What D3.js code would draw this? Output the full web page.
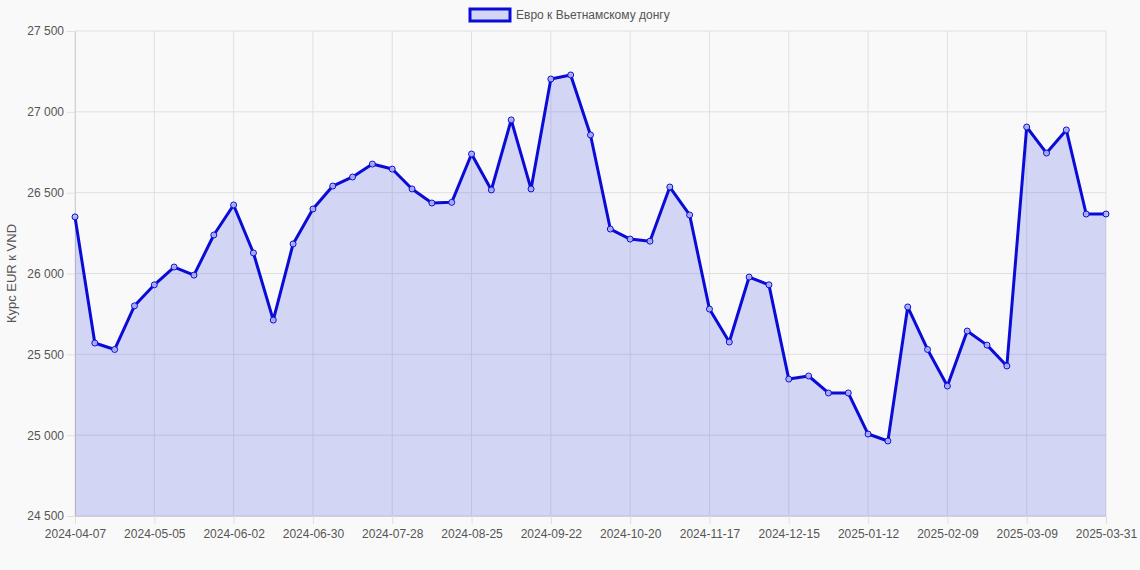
<!DOCTYPE html>
<html><head><meta charset="utf-8">
<script src="https://cdn.jsdelivr.net/npm/d3@7"></script>
<style>body{margin:0;background:#f9f9f9;font-family:"Liberation Sans",Arial,sans-serif}</style>
</head><body><svg id="c" width="1140" height="570"></svg>
<script>
const startDate = "2024-04-07";
const lastLabel = "2025-03-31";
const values = [26350,25570,25530,25800,25930,26040,25990,26238,26424,26127,25712,26183,26399,26541,26597,26677,26646,26523,26436,26440,26739,26517,26950,26523,27203,27228,26857,26275,26213,26200,26535,26362,25780,25576,25978,25930,25347,25366,25261,25261,25007,24964,25793,25530,25304,25644,25557,25428,26906,26745,26888,26368,26368];
const yTicks = [24500,25000,25500,26000,26500,27000,27500];
const seriesName = "Евро к Вьетнамскому донгу";
const yTitle = "Курс EUR к VND";

const fmt = d3.utcFormat("%Y-%m-%d");
const s = new Date(startDate+"T00:00:00Z");
const labels = values.map((v,i)=> i===values.length-1 ? lastLabel : fmt(d3.utcDay.offset(s,7*i)));

const svg = d3.select("#c");
const L=75,R=1106,T=31,B=516;
const x = d3.scalePoint().domain(labels).range([L,R]);
const y = d3.scaleLinear().domain([24500,27500]).range([B,T]);

const tickLabels = labels.filter((d,i)=> i%4===0 || i===labels.length-1);
// grid
svg.append("g").selectAll("line").data(yTicks).join("line")
 .attr("x1",L).attr("x2",R).attr("y1",d=>y(d)).attr("y2",d=>y(d)).attr("stroke","#e0e0e0");
svg.append("g").selectAll("line").data(tickLabels).join("line")
 .attr("y1",T).attr("y2",B).attr("x1",d=>x(d)).attr("x2",d=>x(d)).attr("stroke","#e0e0e0");
// axes
const ya = svg.append("g").attr("transform",`translate(${L},0)`)
 .call(d3.axisLeft(y).tickValues(yTicks).tickSize(8).tickFormat(d=>d3.format(",")(d).replace(/,/g," ")));
const xa = svg.append("g").attr("transform",`translate(0,${B})`)
 .call(d3.axisBottom(x).tickValues(tickLabels).tickSize(8));
[ya,xa].forEach(a=>{a.select(".domain").attr("stroke","#d0d0d0");a.selectAll(".tick line").attr("stroke","#e0e0e0");
 a.selectAll("text").attr("fill","#555").style("font-size","12px").style("font-family","Liberation Sans, Arial");});
xa.selectAll("text").attr("dy","0.9em");

const data = labels.map((l,i)=>({l,v:values[i]}));
svg.append("path").datum(data).attr("fill","rgba(60,70,230,0.2)")
 .attr("d",d3.area().x(d=>x(d.l)).y0(B).y1(d=>y(d.v)));
svg.append("path").datum(data).attr("fill","none").attr("stroke","#0b0bd8").attr("stroke-width",3)
 .attr("stroke-linejoin","round").attr("d",d3.line().x(d=>x(d.l)).y(d=>y(d.v)));
svg.append("g").selectAll("circle").data(data).join("circle")
 .attr("cx",d=>x(d.l)).attr("cy",d=>y(d.v)).attr("r",3)
 .attr("fill","rgba(180,185,245,0.9)").attr("stroke","#0b0bd8").attr("stroke-width",1);

svg.append("text").attr("transform",`translate(16,${(T+B)/2}) rotate(-90)`).attr("text-anchor","middle")
 .attr("fill","#555").style("font-size","13px").text(yTitle);
const lg = svg.append("g");
lg.append("rect").attr("x",470).attr("y",9).attr("width",40).attr("height",12)
 .attr("fill","rgba(60,70,230,0.2)").attr("stroke","#0b0bd8").attr("stroke-width",3);
lg.append("text").attr("x",516).attr("y",19).attr("fill","#555").style("font-size","12px").text(seriesName);
</script></body></html>
